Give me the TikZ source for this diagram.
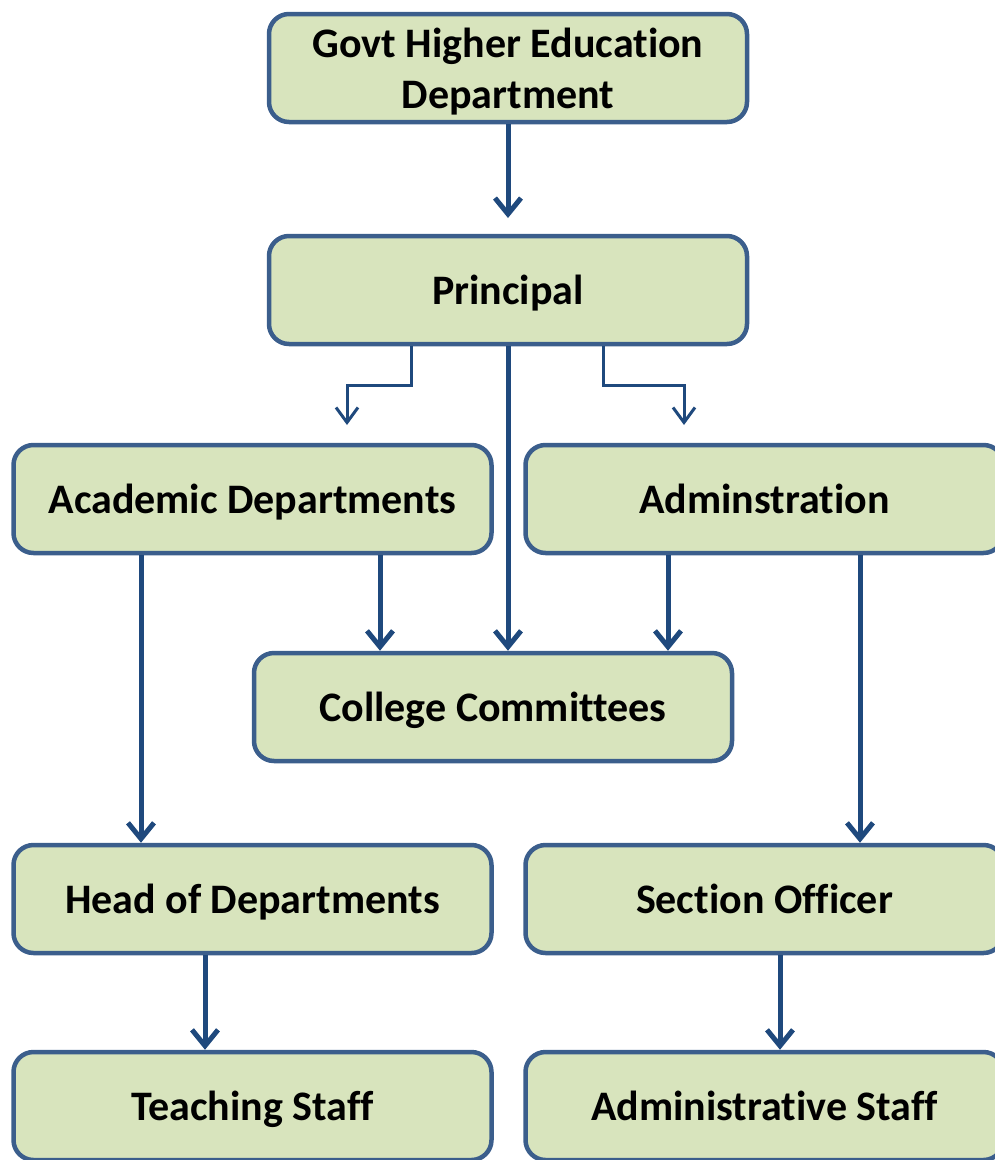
\documentclass[tikz,border=0pt]{standalone}
\usepackage{fontspec}
\setmainfont{Carlito}[Ligatures=CommonOff]
\usetikzlibrary{arrows.meta}
\definecolor{boxfill}{HTML}{D8E4BD}
\definecolor{boxline}{HTML}{3B5E8C}
\definecolor{arrowc}{HTML}{1F497D}
\begin{document}
\begin{tikzpicture}[x=1pt,y=-1pt,
  box/.style={draw=boxline,fill=boxfill,line width=4.5pt,rounded corners=20pt,
    minimum width=478pt,minimum height=108pt,inner sep=0pt,align=center,text depth=0pt,
    font=\fontsize{42}{51}\selectfont\bfseries},
  thick arrow/.style={draw=arrowc,line width=5pt,-{Straight Barb[length=16pt,width=26pt]}},
  thin arrow/.style={draw=arrowc,line width=3pt,-{Straight Barb[length=15pt,width=22pt]}}]
\useasboundingbox (0,0) rectangle (994,1160);
\node[box] (govt) at (508,68) {Govt Higher Education\\Department};
\node[box] (prin) at (508,290) {Principal};
\node[box] (acad) at (252.5,499) {Academic Departments};
\node[box] (adm) at (764.5,499) {Adminstration};
\node[box] (cc) at (493,707) {College Committees};
\node[box] (head) at (252.5,899) {Head of Departments};
\node[box] (sec) at (764.5,899) {Section Officer};
\node[box] (teach) at (252.5,1106) {Teaching Staff};
\node[box] (astaff) at (764.5,1106) {Administrative Staff};
\coordinate (t1) at (508,218);
\coordinate (l1) at (347,425);
\coordinate (r1) at (684,425);
\draw[thick arrow] (govt.south -| t1) -- (t1);
\draw[thin arrow] (prin.south -| 411,0) -- (411,385) -- (347,385) -- (l1);
\draw[thin arrow] (prin.south -| 603,0) -- (603,385) -- (684,385) -- (r1);
\draw[thick arrow] (prin.south) -- (cc.north -| prin.south);
\draw[thick arrow] (acad.south -| 380,0) -- (cc.north -| 380,0);
\draw[thick arrow] (adm.south -| 668,0) -- (cc.north -| 668,0);
\draw[thick arrow] (acad.south -| 141,0) -- (head.north -| 141,0);
\draw[thick arrow] (adm.south -| 860,0) -- (sec.north -| 860,0);
\draw[thick arrow] (head.south -| 205,0) -- (teach.north -| 205,0);
\draw[thick arrow] (sec.south -| 780,0) -- (astaff.north -| 780,0);
\end{tikzpicture}
\end{document}
